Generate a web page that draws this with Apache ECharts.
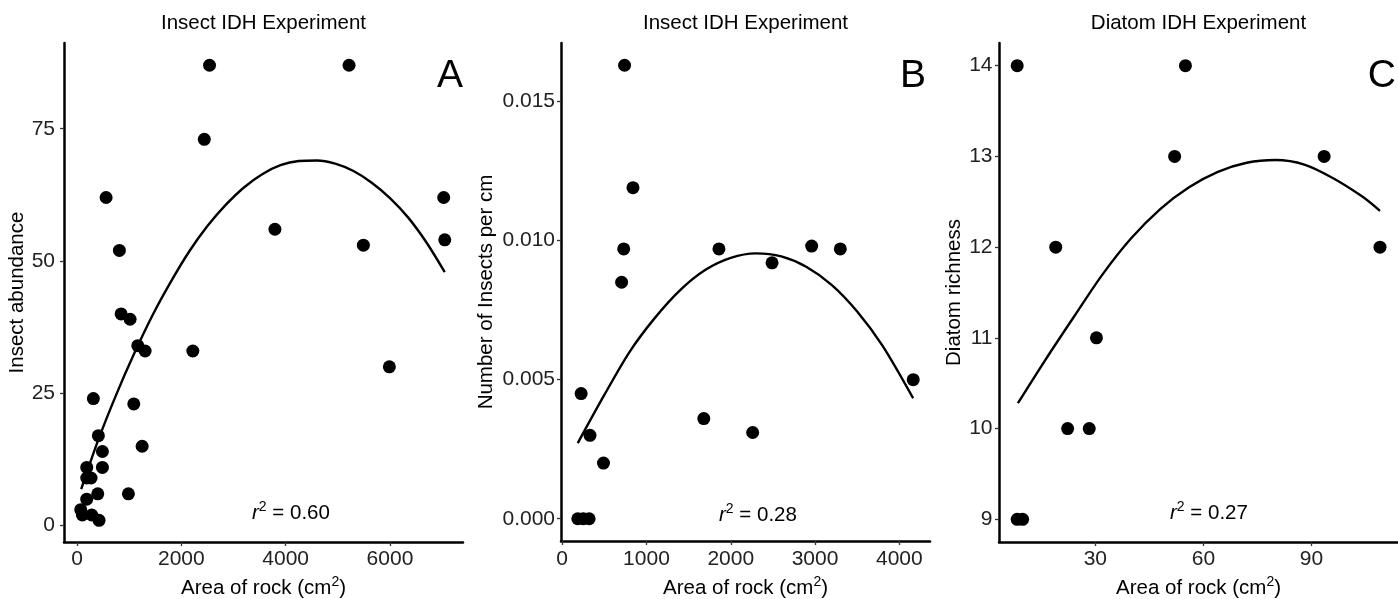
<!DOCTYPE html>
<html>
<head>
<meta charset="utf-8">
<script src="https://cdn.jsdelivr.net/npm/echarts@6/dist/echarts.min.js"></script>
<style>
html,body{margin:0;padding:0;background:#fff;}
#chart{width:1398px;height:599px;}
</style>
</head>
<body>
<div id="chart"></div>
<script>
// ---------- Panel A: Insect abundance ----------
const aArea = [71, 102, 282, 422, 186, 397, 985, 186, 186, 269, 486, 486, 409, 313, 1088, 1248, 1165, 1305, 2220, 845, 1017, 812, 557, 2440, 2540, 5215, 3794, 5490, 5988, 7030, 7050];
const aAbund = [3, 2, 2, 1, 5, 6, 6, 11, 9, 9, 11, 14, 17, 24, 23, 15, 34, 33, 33, 40, 39, 52, 62, 73, 87, 87, 56, 53, 30, 62, 54];
const aFitX = [80, 400, 750, 1100, 1450, 1800, 2150, 2500, 2850, 3200, 3550, 3900, 4250, 4600, 4950, 5300, 5650, 6000, 6350, 6700, 7050];
const aFitY = [6.9, 16.0, 24.7, 32.6, 39.8, 46.1, 51.8, 56.6, 60.6, 63.9, 66.4, 68.1, 68.9, 69.0, 68.4, 67.0, 64.8, 61.9, 58.2, 53.5, 47.9];
const aXTicks = [0, 2000, 4000, 6000];
const aYTicks = [0, 25, 50, 75];

// ---------- Panel B: Insects per cm ----------
const bArea = [740, 840, 730, 705, 1860, 2490, 2960, 3300, 4165, 225, 330, 490, 1680, 2260, 185, 250, 320];
const bPerCm = [0.0163, 0.0119, 0.0097, 0.0085, 0.0097, 0.0092, 0.0098, 0.0097, 0.0050, 0.0045, 0.0030, 0.0020, 0.0036, 0.0031, 0, 0, 0];
const bFitX = [185, 500, 800, 1100, 1400, 1700, 2000, 2300, 2600, 2900, 3200, 3500, 3800, 4164];
const bFitY = [0.00272, 0.00445, 0.00600, 0.00722, 0.00822, 0.00895, 0.00938, 0.00954, 0.00943, 0.00905, 0.00840, 0.00745, 0.00622, 0.00433];
const bXTicks = [0, 1000, 2000, 3000, 4000];
const bYTicks = [0, 0.005, 0.010, 0.015];

// ---------- Panel C: Diatom richness ----------
const cArea = [8.3, 55, 52, 93.5, 19, 109, 30.3, 22.3, 28.3, 8.3, 9.8];
const cRich = [14, 14, 13, 13, 12, 12, 11, 10, 10, 9, 9];
const cFitX = [8.5, 16, 24, 32, 40, 48, 56, 64, 72, 80, 88, 96, 104, 109];
const cFitY = [10.28, 10.75, 11.23, 11.70, 12.10, 12.42, 12.66, 12.83, 12.93, 12.96, 12.91, 12.76, 12.56, 12.40];
const cXTicks = [30, 60, 90];
const cYTicks = [9, 10, 11, 12, 13, 14];

const titles = ['Insect IDH Experiment', 'Insect IDH Experiment', 'Diatom IDH Experiment'];
const letters = ['A', 'B', 'C'];
const rsq = ['0.60', '0.28', '0.27'];
const yNames = ['Insect abundance', 'Number of Insects per cm', 'Diatom richness'];
const xName = 'Area of rock (cm';

const FONT = "'Liberation Sans', Arial, Helvetica, sans-serif";
const zip = (xs, ys) => xs.map((x, i) => [x, ys[i]]);

const grids = [
  {left: 64, top: 43, width: 399, height: 499, containLabel: false, outerBoundsMode: 'none'},
  {left: 561, top: 43, width: 369, height: 498, containLabel: false, outerBoundsMode: 'none'},
  {left: 999, top: 43, width: 399, height: 499, containLabel: false, outerBoundsMode: 'none'}
];
const xr = [[-250, 7400], [-14, 4364], [3.25, 114]];
const yr = [[-3.1, 91.2], [-0.0008, 0.0171], [8.75, 14.25]];
const xt = [aXTicks, bXTicks, cXTicks];
const yt = [aYTicks, bYTicks, cYTicks];
const yLabMargin = [9, 6, 6.5];
const xLabMargin = [7, 8, 7];
const yNameGap = [35, 64, 32];

function axisCommon() {
  return {
    axisLine: {show: true, onZero: false, lineStyle: {color: '#000', width: 2.5}},
    splitLine: {show: false}
  };
}

const xAxis = [], yAxis = [];
for (let i = 0; i < 3; i++) {
  xAxis.push(Object.assign(axisCommon(), {
    type: 'value', gridIndex: i, min: xr[i][0], max: xr[i][1],
    axisTick: {show: true, length: 4, lineStyle: {color: '#333', width: 1.3}, customValues: xt[i]},
    axisLabel: {show: true, customValues: xt[i], color: '#222', fontSize: 21, fontFamily: FONT, margin: xLabMargin[i],
      formatter: v => String(v)},
    name: '{b|' + xName + '}{s|2}{b|)}',
    nameLocation: 'middle', nameGap: 30,
    nameTextStyle: {
      fontFamily: FONT, color: '#000',
      rich: {
        b: {fontSize: 20.5, fontFamily: FONT, color: '#000', lineHeight: 26},
        s: {fontSize: 14, fontFamily: FONT, color: '#000', lineHeight: 14, verticalAlign: 'top'}
      }
    }
  }));
  yAxis.push(Object.assign(axisCommon(), {
    type: 'value', gridIndex: i, min: yr[i][0], max: yr[i][1],
    axisTick: {show: true, length: 4, lineStyle: {color: '#333', width: 1.3}, customValues: yt[i]},
    axisLabel: {show: true, customValues: yt[i], color: '#222', fontSize: 21, fontFamily: FONT, margin: yLabMargin[i],
      formatter: i === 1 ? (v => v.toFixed(3)) : (v => String(v))},
    name: yNames[i], nameLocation: 'middle', nameGap: yNameGap[i],
    nameTextStyle: {fontSize: 20.5, fontFamily: FONT, color: '#000'}
  }));
}

const pts = [zip(aArea, aAbund), zip(bArea, bPerCm), zip(cArea, cRich)];
const fits = [zip(aFitX, aFitY), zip(bFitX, bFitY), zip(cFitX, cFitY)];
const series = [];
for (let i = 0; i < 3; i++) {
  series.push({
    type: 'scatter', xAxisIndex: i, yAxisIndex: i, data: pts[i],
    symbol: 'circle', symbolSize: 13, itemStyle: {color: '#000', opacity: 1}, silent: true
  });
  series.push({
    type: 'line', xAxisIndex: i, yAxisIndex: i, data: fits[i], smooth: 0.3,
    symbol: 'none', lineStyle: {color: '#000', width: 2.4}, silent: true
  });
}

const graphic = [];
const titleX = [263.5, 745.5, 1198.5];
const letterX = [463, 926, 1396];
const rX = [252, 719, 1170];
const rY = [513, 515, 513.5];
for (let i = 0; i < 3; i++) {
  graphic.push({type: 'text', x: titleX[i], y: 23, style: {text: titles[i], font: '20.5px ' + FONT, fill: '#000', align: 'center', verticalAlign: 'middle'}});
  graphic.push({type: 'text', x: letterX[i], y: 76, style: {text: letters[i], font: '39px ' + FONT, fill: '#000', align: 'right', verticalAlign: 'middle'}});
  graphic.push({type: 'text', x: rX[i], y: rY[i], style: {
    text: '{i|r}{s|2}{n| = ' + rsq[i] + '}', align: 'left', verticalAlign: 'middle',
    rich: {
      i: {fontSize: 20.5, fontStyle: 'italic', fontFamily: FONT, fill: '#000', lineHeight: 26},
      s: {fontSize: 14, fontFamily: FONT, fill: '#000', lineHeight: 14, verticalAlign: 'top'},
      n: {fontSize: 20.5, fontFamily: FONT, fill: '#000', lineHeight: 26}
    }
  }});
}

const chart = echarts.init(document.getElementById('chart'), null, {renderer: 'canvas'});
chart.setOption({
  animation: false,
  backgroundColor: '#fff',
  textStyle: {fontFamily: FONT},
  grid: grids,
  xAxis: xAxis,
  yAxis: yAxis,
  series: series,
  graphic: graphic
});
</script>
</body>
</html>
